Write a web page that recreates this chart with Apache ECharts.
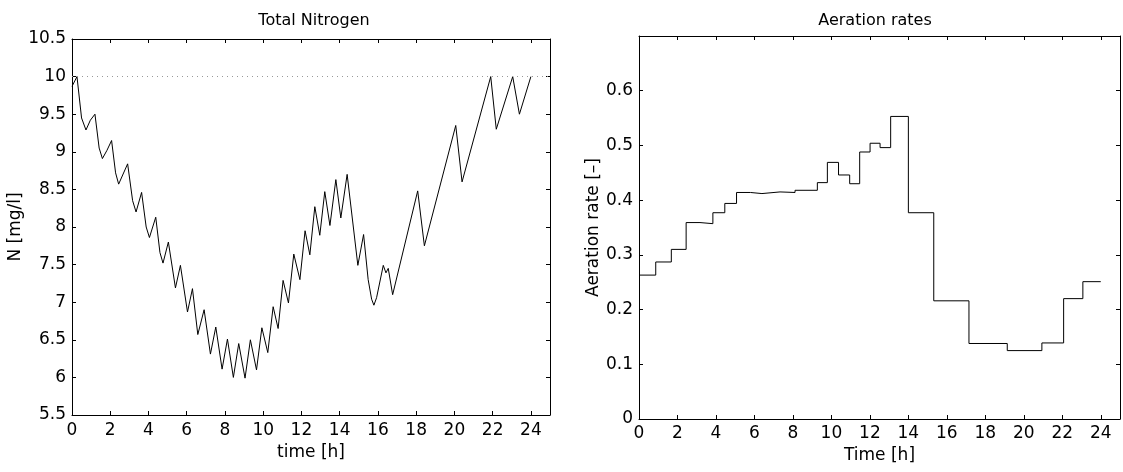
<!DOCTYPE html>
<html>
<head>
<meta charset="utf-8">
<script src="https://cdn.jsdelivr.net/npm/echarts@6/dist/echarts.min.js"></script>
<style>
  html, body { margin: 0; padding: 0; background: #fff; }
  #main { width: 1123px; height: 472px; }
</style>
</head>
<body>
<div id="main"></div>
<script>
// Total Nitrogen: knick points of the curve (time [h], N [mg/l])
const ntTime = [0, 0.26, 0.50, 0.73, 0.96, 1.02, 1.2, 1.42, 1.59, 1.83, 2.07, 2.28, 2.44, 2.91, 3.17, 3.35,
  3.64, 3.88, 4.05, 4.38, 4.60, 4.76, 5.04, 5.41, 5.67, 6.04, 6.30, 6.58, 6.91, 7.24, 7.52, 7.85, 8.13,
  8.44, 8.72, 9.05, 9.33, 9.65, 9.93, 10.24, 10.52, 10.78, 11.04, 11.32, 11.60, 11.92, 12.19, 12.44,
  12.70, 12.96, 13.22, 13.49, 13.80, 14.06, 14.39, 14.95, 15.25, 15.49, 15.67, 15.79, 15.93, 16.28,
  16.42, 16.54, 16.77, 18.08, 18.43, 20.07, 20.40, 21.90, 22.19, 23.05, 23.40, 24.0];
const ntValue = [9.87, 10.0, 9.45, 9.29, 9.42, 9.43, 9.50, 9.05, 8.91, 9.02, 9.15, 8.72, 8.57, 8.84, 8.35, 8.20,
  8.46, 8.00, 7.86, 8.13, 7.66, 7.52, 7.80, 7.19, 7.49, 6.87, 7.18, 6.57, 6.90, 6.31, 6.67, 6.11, 6.51,
  6.00, 6.45, 5.99, 6.50, 6.10, 6.66, 6.33, 6.94, 6.65, 7.29, 6.99, 7.64, 7.30, 7.95, 7.63,
  8.27, 7.89, 8.47, 8.02, 8.63, 8.12, 8.70, 7.49, 7.90, 7.30, 7.04, 6.96, 7.06, 7.49,
  7.39, 7.45, 7.10, 8.48, 7.75, 9.35, 8.60, 10.0, 9.30, 10.0, 9.50, 10.0];
const ntLimit = 10;

// Aeration rates: step start times and held values (last value repeated at 24 h)
const aerTime = [0, 0.87, 1.68, 2.45, 3.17, 3.84, 4.46, 5.07, 5.79, 6.39, 7.33, 8.11, 9.27, 9.79,
  10.37, 10.95, 11.47, 12.01, 12.53, 13.08, 14.0, 15.32, 17.15, 19.14, 20.94, 22.07, 23.07, 24.0];
const aerValue = [0.263, 0.287, 0.310, 0.359, 0.357, 0.377, 0.394, 0.414, 0.412, 0.415, 0.414, 0.418,
  0.432, 0.469, 0.446, 0.430, 0.488, 0.504, 0.496, 0.553, 0.377, 0.216, 0.138, 0.125, 0.139, 0.220,
  0.251, 0.251];

const xTicks = [0, 2, 4, 6, 8, 10, 12, 14, 16, 18, 20, 22, 24];

const FONT = 'DejaVu Sans';
const chart = echarts.init(document.getElementById('main'), null, { renderer: 'canvas' });

// plain matlab-like box axis, ticks pointing inwards
function boxAxis(extra) {
  return Object.assign({
    type: 'value',
    axisLine: { show: true, onZero: false, lineStyle: { color: '#000', width: 1 } },
    axisTick: { show: true, inside: true, length: 4, lineStyle: { color: '#000' } },
    splitLine: { show: false },
    axisLabel: { show: false }
  }, extra);
}

const labelStyle = { show: true, color: '#000', fontFamily: FONT, fontSize: 17 };
const nameStyle = { color: '#000', fontFamily: FONT, fontSize: 17 };
const titleStyle = { fontFamily: FONT, fontSize: 16, fontWeight: 'normal', color: '#000' };

chart.setOption({
  animation: false,
  backgroundColor: '#fff',
  title: [
    { text: 'Total Nitrogen', left: 309, top: 8, textAlign: 'center', textStyle: titleStyle },
    { text: 'Aeration rates', left: 870, top: 8, textAlign: 'center', textStyle: titleStyle }
  ],
  grid: [
    { left: 72, top: 39, width: 478, height: 376 },
    { left: 639, top: 36, width: 486, height: 383 }
  ],
  xAxis: [
    boxAxis({ gridIndex: 0, min: 0, max: 25, interval: 2, position: 'bottom',
      name: 'time [h]', nameLocation: 'middle', nameGap: 29, nameTextStyle: nameStyle,
      axisLabel: Object.assign({ margin: 7, formatter: v => (xTicks.includes(v) ? String(v) : '') }, labelStyle) }),
    boxAxis({ gridIndex: 0, min: 0, max: 25, interval: 2, position: 'top' }),
    boxAxis({ gridIndex: 1, min: 0, max: 25, interval: 2, position: 'bottom',
      name: 'Time [h]', nameLocation: 'middle', nameGap: 28, nameTextStyle: nameStyle,
      axisLabel: Object.assign({ margin: 6, formatter: v => (xTicks.includes(v) ? String(v) : '') }, labelStyle) }),
    boxAxis({ gridIndex: 1, min: 0, max: 25, interval: 2, position: 'top' })
  ],
  yAxis: [
    boxAxis({ gridIndex: 0, min: 5.5, max: 10.5, interval: 0.5, position: 'left',
      name: 'N [mg/l]', nameLocation: 'middle', nameGap: 48, nameTextStyle: nameStyle,
      axisLabel: Object.assign({ margin: 6 }, labelStyle) }),
    boxAxis({ gridIndex: 0, min: 5.5, max: 10.5, interval: 0.5, position: 'right' }),
    boxAxis({ gridIndex: 1, min: 0, max: 0.7, interval: 0.1, position: 'left',
      name: 'Aeration rate [–]', nameLocation: 'middle', nameGap: 32, nameTextStyle: nameStyle,
      axisLabel: Object.assign({ margin: 6, formatter: v => (v > 0.65 ? '' : String(Math.round(v * 10) / 10)) }, labelStyle) }),
    boxAxis({ gridIndex: 1, min: 0, max: 0.7, interval: 0.1, position: 'right' })
  ],
  series: [
    {
      type: 'line', xAxisIndex: 0, yAxisIndex: 0,
      data: ntTime.map((t, i) => [t, ntValue[i]]),
      showSymbol: false, symbol: 'none',
      lineStyle: { color: '#000', width: 1 },
      markLine: {
        silent: true, symbol: 'none', label: { show: false },
        lineStyle: { color: '#999', type: [1, 4], width: 1 },
        data: [{ yAxis: ntLimit }]
      }
    },
    {
      type: 'line', xAxisIndex: 2, yAxisIndex: 2, step: 'end',
      data: aerTime.map((t, i) => [t, aerValue[i]]),
      showSymbol: false, symbol: 'none',
      lineStyle: { color: '#000', width: 1 }
    }
  ]
});
</script>
</body>
</html>
